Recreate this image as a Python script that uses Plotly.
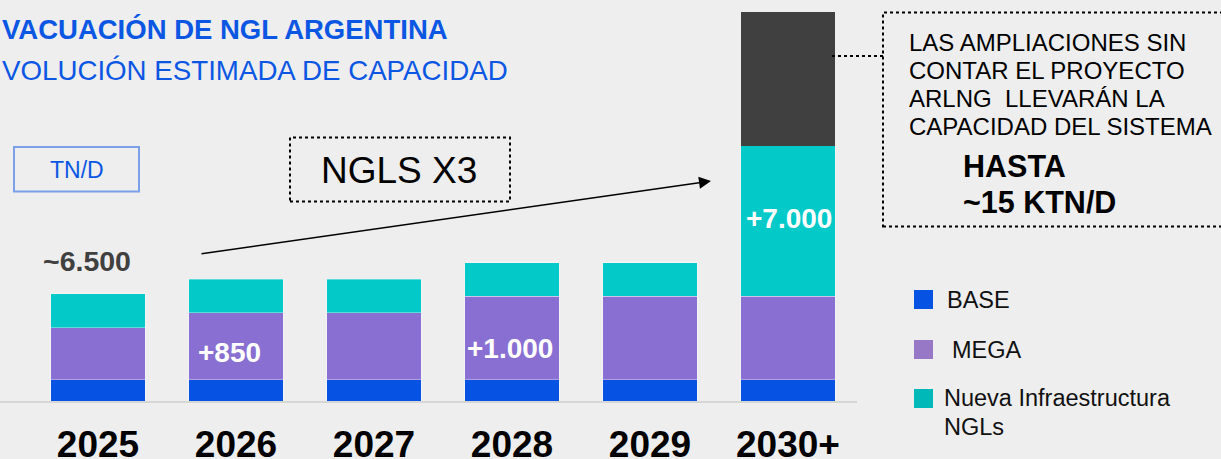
import plotly.graph_objects as go

# ---- data ----
years = ["2025", "2026", "2027", "2028", "2029", "2030+"]
base = [1300, 1300, 1300, 1300, 1300, 1300]
mega = [3150, 4050, 4050, 5050, 5050, 5050]
nueva = [2050, 2050, 2050, 2050, 2050, 9150]
ampliaciones = [0, 0, 0, 0, 0, 8100]
increment_labels = ["", "+850", "", "+1.000", "", "+7.000"]
start_label = "~6.500"

C_BASE = "#0652e2"
C_MEGA = "#896fd2"
C_NUEVA = "#04c9c9"
C_DARK = "#404040"
BLUE_TXT = "#0b57e3"
BG = "#eeeeee"

W, H = 1221, 459
PLOT_W = 857          # plot area width in px (left margin 0)
PLOT_B = 401          # plot area bottom in px (top margin 0)
UNITS_PER_PX = 60.7
YMAX = PLOT_B * UNITS_PER_PX


def px(xp):
    return xp / PLOT_W


def py(yp):
    return (PLOT_B - yp) / PLOT_B


FONT = "Liberation Sans, Arial, sans-serif"

fig = go.Figure()
bar_line = dict(width=1, color="rgba(255,255,255,0.35)")
fig.add_trace(go.Bar(x=years, y=base, name="BASE", marker=dict(color=C_BASE, line=bar_line), width=0.688))
fig.add_trace(go.Bar(x=years, y=mega, name="MEGA", marker=dict(color=C_MEGA, line=bar_line), width=0.688))
fig.add_trace(go.Bar(x=years, y=nueva, name="Nueva Infraestructura NGLs", marker=dict(color=C_NUEVA, line=bar_line), width=0.688))
fig.add_trace(go.Bar(x=years, y=ampliaciones, name="Ampliaciones", marker=dict(color=C_DARK, line=dict(width=0)), width=0.688))

ann = []
shapes = []

# increment labels inside bars (x given as category index)
shifts = {1: ("mega", -6, -6), 3: ("mega", -2, -11), 5: ("nueva", 1, 3)}
for i, lab in enumerate(increment_labels):
    if not lab:
        continue
    seg, xs, ys = shifts[i]
    if seg == "mega":
        yc = base[i] + mega[i] / 2
    else:
        yc = base[i] + mega[i] + nueva[i] / 2
    ann.append(dict(x=i, y=yc, xref="x", yref="y", text=lab, showarrow=False,
                    xshift=xs, yshift=ys,
                    font=dict(family=FONT, size=28, color="white", weight="bold")))

# title
ann.append(dict(x=px(0), y=py(29), xref="paper", yref="paper", xanchor="left", yanchor="middle",
                text="VACUACIÓN DE NGL ARGENTINA", showarrow=False,
                font=dict(family=FONT, size=27.5, color=BLUE_TXT, weight="bold")))
ann.append(dict(x=px(0), y=py(71), xref="paper", yref="paper", xanchor="left", yanchor="middle",
                text="VOLUCIÓN ESTIMADA DE CAPACIDAD", showarrow=False,
                font=dict(family=FONT, size=27.7, color=BLUE_TXT)))

# TN/D box
shapes.append(dict(type="rect", xref="paper", yref="paper", x0=px(14), x1=px(139), y0=py(191.5), y1=py(147),
                   line=dict(color="#7b9fe8", width=2), fillcolor="rgba(0,0,0,0)"))
ann.append(dict(x=px(76.5), y=py(170), xref="paper", yref="paper", xanchor="center", yanchor="middle",
                text="TN/D", showarrow=False, font=dict(family=FONT, size=23, color=BLUE_TXT)))

# start label
ann.append(dict(x=px(87), y=py(261), xref="paper", yref="paper", xanchor="center", yanchor="middle",
                text=start_label, showarrow=False, font=dict(family=FONT, size=28.5, color="#404040", weight="bold")))

# NGLS X3 box
shapes.append(dict(type="rect", xref="paper", yref="paper", x0=px(290), x1=px(510), y0=py(201.5), y1=py(137.5),
                   line=dict(color="black", width=2, dash="dot"), fillcolor="rgba(0,0,0,0)"))
ann.append(dict(x=px(399), y=py(170), xref="paper", yref="paper", xanchor="center", yanchor="middle",
                text="NGLS X3", showarrow=False, font=dict(family=FONT, size=37, color="black")))

# arrow
ann.append(dict(x=px(711), y=py(181), xref="paper", yref="paper", ax=200 - 711, ay=254 - 181,
                axref="pixel", ayref="pixel", text="", showarrow=True,
                arrowhead=2, arrowsize=1.6, arrowwidth=1.5, arrowcolor="black"))

# right-hand note box
shapes.append(dict(type="rect", xref="paper", yref="paper", x0=px(883), x1=px(1240), y0=py(226.5), y1=py(12.5),
                   line=dict(color="black", width=2, dash="dot"), fillcolor="rgba(0,0,0,0)"))
shapes.append(dict(type="line", xref="paper", yref="paper", x0=px(832), x1=px(883), y0=py(56), y1=py(56),
                   line=dict(color="black", width=2, dash="dot")))
note_lines = ["LAS AMPLIACIONES SIN", "CONTAR EL PROYECTO", "ARLNG  LLEVARÁN LA", "CAPACIDAD DEL SISTEMA"]
for k, t in enumerate(note_lines):
    ann.append(dict(x=px(907), y=py(42 + 28.3 * k), xref="paper", yref="paper", xanchor="left", yanchor="middle",
                    text=t, showarrow=False, font=dict(family=FONT, size=24, color="black")))
ann.append(dict(x=px(961), y=py(166), xref="paper", yref="paper", xanchor="left", yanchor="middle",
                text="HASTA", showarrow=False, font=dict(family=FONT, size=30.5, color="black", weight="bold")))
ann.append(dict(x=px(961), y=py(202), xref="paper", yref="paper", xanchor="left", yanchor="middle",
                text="~15 KTN/D", showarrow=False, font=dict(family=FONT, size=30.5, color="black", weight="bold")))

# legend (custom)
legend_items = [("BASE", "#0652e2", 290, [(945, 300, "BASE")]),
                ("MEGA", "#9678c6", 340, [(950, 350, "MEGA")]),
                ("Nueva", "#00b8b8", 389, [(942, 398, "Nueva Infraestructura"), (942, 427, "NGLs")])]
for name, col, ytop, texts in legend_items:
    shapes.append(dict(type="rect", xref="paper", yref="paper", x0=px(914), x1=px(933), y0=py(ytop + 19), y1=py(ytop),
                       line=dict(width=0), fillcolor=col))
    for (tx, ty, tt) in texts:
        ann.append(dict(x=px(tx), y=py(ty), xref="paper", yref="paper", xanchor="left", yanchor="middle",
                        text=tt, showarrow=False, font=dict(family=FONT, size=23.5, color="#111111")))

fig.update_layout(
    width=W, height=H, barmode="stack", showlegend=False,
    paper_bgcolor=BG, plot_bgcolor=BG,
    margin=dict(l=0, r=W - PLOT_W, t=0, b=H - PLOT_B, autoexpand=False),
    annotations=ann, shapes=shapes,
    xaxis=dict(type="category", range=[-0.71, 5.5], showline=True, linecolor="#d6d6d6", linewidth=2,
               showgrid=False, ticks="", fixedrange=True, ticklabelstandoff=10, automargin=False,
               tickfont=dict(family=FONT, size=37, color="black", weight="bold")),
    yaxis=dict(range=[0, YMAX], visible=False, fixedrange=True, automargin=False),
)

fig.write_html(
    "out.html",
    config={"displayModeBar": False},
    post_script="document.body.style.margin='0';document.body.style.background='#eeeeee';",
)
